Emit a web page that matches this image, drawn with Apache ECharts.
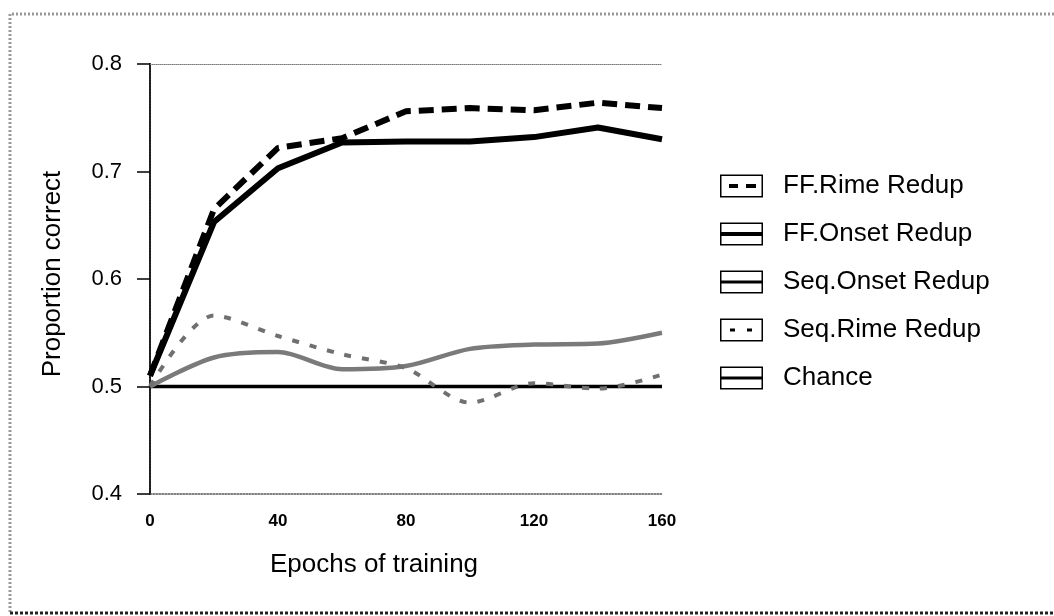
<!DOCTYPE html>
<html>
<head>
<meta charset="utf-8">
<script src="https://cdn.jsdelivr.net/npm/echarts@6/dist/echarts.min.js"></script>
<style>
  html, body { margin: 0; padding: 0; background: #fff; }
  #chart { width: 1054px; height: 616px; }
</style>
</head>
<body>
<div id="chart"></div>
<script>
// epochs of training
const epochs = [0, 20, 40, 60, 80, 100, 120, 140, 160];
// proportion correct
const ffRime = [0.51, 0.665, 0.722, 0.731, 0.756, 0.759, 0.757, 0.764, 0.759];
const ffOnset = [0.51, 0.653, 0.703, 0.727, 0.728, 0.728, 0.732, 0.741, 0.730];
const seqOnset = [0.50, 0.527, 0.532, 0.516, 0.519, 0.535, 0.539, 0.540, 0.550];
const seqRime = [0.50, 0.566, 0.547, 0.530, 0.517, 0.485, 0.503, 0.498, 0.511];
const chance = [0.50, 0.50, 0.50, 0.50, 0.50, 0.50, 0.50, 0.50, 0.50];
const yTicks = [0.4, 0.5, 0.6, 0.7, 0.8];
const xTicks = [0, 40, 80, 120, 160];

const pairs = (ys) => epochs.map((x, i) => [x, ys[i]]);

// legend icons: box outline + line inside (43 x 23 box)
const frame = 'M0 0 H43 V23 H0 Z M1.5 1.5 V21.5 H41.5 V1.5 Z ';
const icons = {
  solid: 'path://' + frame + 'M1.5 9.5 H41.5 V13.5 H1.5 Z',
  dash: 'path://' + frame + 'M9 9.5 H18 V13.5 H9 Z M26 9.5 H36 V13.5 H26 Z',
  hatch: 'path://' + frame + 'M1.5 10 H41.5 V13 H1.5 Z',
  seqdash: 'path://' + frame + 'M10 10 H15 V13 H10 Z M27 10 H32 V13 H27 Z',
  thin: 'path://' + frame + 'M1.5 10 H41.5 V13 H1.5 Z'
};

const myChart = echarts.init(document.getElementById('chart'));

const option = {
  animation: false,
  backgroundColor: '#fff',
  textStyle: { fontFamily: 'Liberation Sans, Arial, sans-serif', color: '#000' },
  grid: { left: 150, right: 392, top: 64, bottom: 122 },
  legend: {
    orient: 'vertical',
    left: 715,
    top: 168,
    itemWidth: 43,
    itemHeight: 23,
    itemGap: 22,
    selectedMode: false,
    itemStyle: { borderWidth: 0 },
    textStyle: { fontSize: 26, lineHeight: 23, color: '#000', padding: [0, 0, 0, 15] },
    data: [
      { name: 'FF.Rime Redup', icon: icons.dash, itemStyle: { color: '#000' } },
      { name: 'FF.Onset Redup', icon: icons.solid, itemStyle: { color: '#000' } },
      { name: 'Seq.Onset Redup', icon: icons.hatch, itemStyle: { color: '#000' } },
      { name: 'Seq.Rime Redup', icon: icons.seqdash, itemStyle: { color: '#000' } },
      { name: 'Chance', icon: icons.thin, itemStyle: { color: '#000' } }
    ]
  },
  xAxis: [
    {
      type: 'value',
      min: xTicks[0],
      max: xTicks[xTicks.length - 1],
      interval: 40,
      name: 'Epochs of training',
      nameLocation: 'middle',
      nameGap: 58,
      nameTextStyle: { fontSize: 26, color: '#000', padding: [0, 64, 0, 0] },
      axisLine: { show: true, lineStyle: { color: '#555', width: 1.5, type: 'dotted' } },
      axisTick: { show: false },
      axisLabel: { fontSize: 17, fontWeight: 'bold', color: '#000', margin: 19 },
      splitLine: { show: false }
    },
    {
      type: 'value',
      position: 'top',
      min: 0,
      max: 160,
      axisLine: { show: true, lineStyle: { color: '#777', width: 1, type: 'dotted' } },
      axisTick: { show: false },
      axisLabel: { show: false },
      splitLine: { show: false }
    }
  ],
  yAxis: [
    {
      type: 'value',
      min: yTicks[0],
      max: yTicks[yTicks.length - 1],
      interval: 0.1,
      name: 'Proportion correct',
      nameLocation: 'middle',
      nameGap: 84,
      nameTextStyle: { fontSize: 26, color: '#000', padding: [0, 0, 0, 10] },
      axisLine: { show: true, lineStyle: { color: '#000', width: 2 } },
      axisTick: { show: true, inside: false, length: 13, lineStyle: { color: '#000', width: 1.5 } },
      axisLabel: { fontSize: 22, color: '#000', margin: 28, formatter: (v) => v.toFixed(1) },
      splitLine: { show: false }
    },
    {
      type: 'value',
      position: 'right',
      min: 0.4,
      max: 0.8,
      axisLine: { show: true, lineStyle: { color: '#333', width: 1.5, type: 'dotted' } },
      axisTick: { show: false },
      axisLabel: { show: false },
      splitLine: { show: false }
    }
  ],
  series: [
    {
      name: 'Chance',
      type: 'line',
      data: pairs(chance),
      showSymbol: false,
      z: 1,
      itemStyle: { color: '#000' },
      lineStyle: { color: '#000', width: 3.5 }
    },
    {
      name: 'Seq.Onset Redup',
      type: 'line',
      data: pairs(seqOnset),
      smooth: 0.3,
      showSymbol: false,
      z: 2,
      itemStyle: { color: '#7a7a7a' },
      lineStyle: { color: '#7a7a7a', width: 4.5 }
    },
    {
      name: 'Seq.Rime Redup',
      type: 'line',
      data: pairs(seqRime),
      smooth: 0.3,
      showSymbol: false,
      z: 3,
      itemStyle: { color: '#707070' },
      lineStyle: { color: '#707070', width: 4, type: [7, 11] }
    },
    {
      name: 'FF.Onset Redup',
      type: 'line',
      data: pairs(ffOnset),
      showSymbol: false,
      z: 4,
      itemStyle: { color: '#000' },
      lineStyle: { color: '#000', width: 6 }
    },
    {
      name: 'FF.Rime Redup',
      type: 'line',
      data: pairs(ffRime),
      showSymbol: false,
      z: 5,
      itemStyle: { color: '#000' },
      lineStyle: { color: '#000', width: 6, type: [15, 8] }
    }
  ],
  graphic: [
    // dotted outer frame of the figure
    {
      type: 'polyline',
      silent: true,
      shape: { points: [[1054, 14], [10, 14], [10, 612]] },
      style: { stroke: '#999', lineWidth: 3, lineDash: [2, 2], fill: null }
    },
    {
      type: 'line',
      silent: true,
      shape: { x1: 10, y1: 613, x2: 1054, y2: 613 },
      style: { stroke: '#222', lineWidth: 3, lineDash: [3, 2] }
    }
  ]
};

myChart.setOption(option);
</script>
</body>
</html>
